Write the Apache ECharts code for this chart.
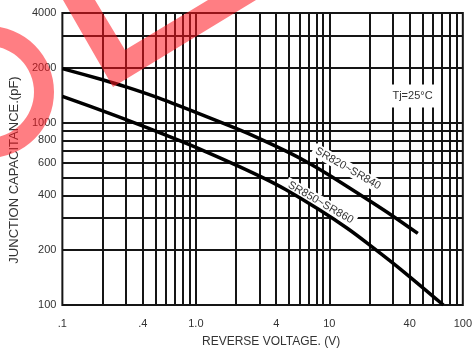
<!DOCTYPE html>
<html>
<head>
<meta charset="utf-8">
<script src="https://cdn.jsdelivr.net/npm/echarts@6/dist/echarts.min.js"></script>
<style>
html,body{margin:0;padding:0;background:#fff;}
#chart{width:475px;height:353px;}
</style>
</head>
<body>
<div id="chart"></div>
<script>
// ---- data ----
var upperName = 'SR820~SR840';
var upperX = [0.1, 0.2, 0.3, 0.5, 1, 2, 3, 5, 7, 10, 20, 30, 46];
var upperY = [1980, 1721, 1574, 1387, 1141, 930, 818, 685, 601, 515, 373, 307, 247];

var lowerName = 'SR850~SR860';
var lowerX = [0.1, 0.22, 0.43, 0.74, 1.16, 2.04, 3.2, 4.7, 8.3, 13.7, 19, 33.5, 71.5];
var lowerY = [1394, 1133, 940, 802, 699, 582, 498, 430, 335, 263, 220, 159, 100];

var xGridValues = [0.2,0.3,0.4,0.5,0.6,0.7,0.8,0.9,1,2,3,4,5,6,7,8,9,10,20,30,40,50,60,70,80,90];
var yGridValues = [200,300,400,500,600,700,800,900,1000,2000,3000];

var xTickValues = [0.1, 0.4, 1, 4, 10, 40, 100];
var xTickLabels = ['.1', '.4', '1.0', '4', '10', '40', '100'];
var yTickValues = [100, 200, 400, 600, 800, 1000, 2000, 4000];
var yTickLabels = ['100', '200', '400', '600', '800', '1000', '2000', '4000'];

var tempNote = 'Tj=25°C';

// ---- helpers ----
function findLabel(vals, labels, v) {
  for (var i = 0; i < vals.length; i++) {
    if (Math.abs(Math.log10(vals[i]) - Math.log10(v)) < 1e-6) return labels[i];
  }
  return null;
}
function pairs(xs, ys) { return xs.map(function (x, i) { return [x, ys[i]]; }); }

var FONT = 'Liberation Sans';
var TXT = '#333';
var LINE = '#151515';

var gridLines = [];
xGridValues.forEach(function (v) {
  var t = findLabel(xTickValues, xTickLabels, v);
  var isDecade = Math.abs(Math.log10(v) - Math.round(Math.log10(v))) < 1e-6;
  gridLines.push({
    xAxis: v,
    label: { show: !!t && !isDecade, formatter: t || '', position: 'start', distance: 13,
             fontSize: 11, color: TXT, fontFamily: FONT }
  });
});
yGridValues.forEach(function (v) {
  var t = findLabel(yTickValues, yTickLabels, v);
  var isDecade = Math.abs(Math.log10(v) - Math.round(Math.log10(v))) < 1e-6;
  gridLines.push({
    yAxis: v,
    label: { show: !!t && !isDecade, formatter: t || '', position: 'start', distance: 6,
             fontSize: 11, color: TXT, fontFamily: FONT }
  });
});

var chart = echarts.init(document.getElementById('chart'), null, { renderer: 'canvas' });

var annLabel = function (rot) {
  return { show: true, position: 'inside', rotate: rot, color: TXT, fontSize: 11, fontFamily: FONT,
           backgroundColor: '#fff', padding: [1, 3], formatter: function (p) { return p.name; } };
};

chart.setOption({
  animation: false,
  backgroundColor: '#fff',
  textStyle: { fontFamily: FONT },
  grid: { left: 54, right: 10, top: 13, bottom: 48, show: true, borderColor: LINE, borderWidth: 2,
          backgroundColor: 'transparent' },
  xAxis: {
    type: 'log', logBase: 10, min: 0.1, max: 100,
    axisLine: { show: false }, axisTick: { show: false }, splitLine: { show: false },
    axisLabel: { margin: 13, fontSize: 11, color: TXT, fontFamily: FONT,
                 formatter: function (v) { return findLabel(xTickValues, xTickLabels, v) || ''; } },
    name: 'REVERSE VOLTAGE. (V)', nameLocation: 'middle', nameGap: 31,
    nameTextStyle: { fontSize: 12, color: TXT, fontFamily: FONT, padding: [0, 0, 0, 17] }
  },
  yAxis: {
    type: 'log', logBase: 10, min: 100, max: 4000,
    axisLine: { show: false }, axisTick: { show: false }, splitLine: { show: false },
    axisLabel: { margin: 6, fontSize: 11, color: TXT, fontFamily: FONT,
                 formatter: function (v) { return findLabel(yTickValues, yTickLabels, v) || ''; } },
    name: 'JUNCTION CAPACITANCE.(pF)', nameLocation: 'middle', nameGap: 36,
    nameTextStyle: { fontSize: 13, color: TXT, fontFamily: FONT, padding: [0, 22, 0, 0] }
  },
  series: [
    {
      name: upperName, type: 'line', data: pairs(upperX, upperY), smooth: 0.3,
      showSymbol: false, symbol: 'none', z: 4,
      lineStyle: { color: '#000', width: 3.5 },
      markLine: {
        silent: true, symbol: ['none', 'none'], z: 1, animation: false,
        lineStyle: { color: LINE, width: 2, type: 'solid' },
        emphasis: { disabled: true },
        data: gridLines
      },
      markPoint: {
        silent: true, z: 2, symbol: 'rect', symbolSize: 1,
        itemStyle: { color: 'rgba(0,0,0,0)' },
        label: annLabel(-30),
        data: [
          { name: upperName, coord: [13.8, 560] },
          { name: lowerName, coord: [8.6, 365] }
        ]
      }
    },
    {
      name: lowerName, type: 'line', data: pairs(lowerX, lowerY), smooth: 0.3,
      showSymbol: false, symbol: 'none', z: 4,
      lineStyle: { color: '#000', width: 3.5 },
      markPoint: {
        silent: true, z: 2, symbol: 'rect', symbolSize: 1,
        itemStyle: { color: 'rgba(0,0,0,0)' },
        label: { show: true, position: 'inside', color: TXT, fontSize: 11, fontFamily: FONT,
                 backgroundColor: '#fff', padding: [6, 8], formatter: function (p) { return p.name; } },
        data: [ { name: tempNote, coord: [42, 1400] } ]
      }
    }
  ],
  graphic: [
    { type: 'ring', z: 100, silent: true,
      shape: { cx: -12, cy: 92, r: 66, r0: 46 },
      style: { fill: 'rgba(255,20,30,0.55)' } },
    { type: 'polygon', z: 100, silent: true,
      shape: { points: [[63, 0], [113, 87], [256, 0], [208, 0], [125, 50], [95, 0]] },
      style: { fill: 'rgba(255,20,30,0.55)' } }
  ]
});
</script>
</body>
</html>
